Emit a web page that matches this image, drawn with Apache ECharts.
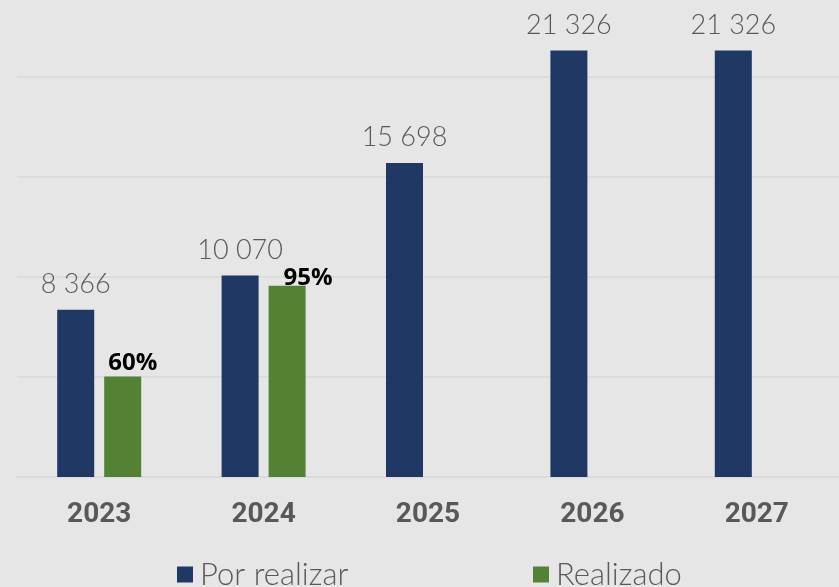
<!DOCTYPE html>
<html>
<head>
<meta charset="utf-8">
<script src="https://cdn.jsdelivr.net/npm/echarts@6/dist/echarts.min.js"></script>
<style>
html,body{margin:0;padding:0;background:#e6e6e6;}
#chart{width:839px;height:587px;}
</style>
</head>
<body>
<div id="chart"></div>
<script>
const categories = ['2023', '2024', '2025', '2026', '2027'];
const porRealizar = [8366, 10070, 15698, 21326, 21326];
const realizado = [5020, 9566, null, null, null];
const realizadoLabels = ['60%', '95%', '', '', ''];
const seriesNames = ['Por realizar', 'Realizado'];
const yMin = 0;
const yMax = 23850;      // visible top of the plot area
const yInterval = 5000;  // gridlines at 0, 5 000, 10 000, 15 000, 20 000

// label placement tweaks (style only)
const greenLabelOffsets = [[4, -1], [15, 4]];

const fmt = v => String(v).replace(/\B(?=(\d{3})+(?!\d))/g, ' ');

const chart = echarts.init(document.getElementById('chart'));
const legendText = { fontFamily: 'Lato', fontWeight: 300, fontSize: 31, lineHeight: 31, color: '#595959', padding: [0, 0, 0, 2] };
chart.setOption({
  backgroundColor: '#e6e6e6',
  animation: false,
  grid: { left: 17, right: 0, top: 0, bottom: 110, containLabel: false },
  legend: [
    { data: [seriesNames[0]], left: 177, top: 559, padding: 0, itemWidth: 16, itemHeight: 16, icon: 'rect', textStyle: legendText },
    { data: [seriesNames[1]], left: 533, top: 559, padding: 0, itemWidth: 16, itemHeight: 16, icon: 'rect', textStyle: legendText }
  ],
  xAxis: {
    type: 'category',
    data: categories,
    axisLine: { lineStyle: { color: '#d9d9d9', width: 1.5 } },
    axisTick: { show: false },
    axisLabel: { fontFamily: 'Roboto', fontWeight: 'bold', fontSize: 28, color: '#595959', margin: 24 }
  },
  yAxis: {
    type: 'value',
    min: yMin,
    max: yMax,
    interval: yInterval,
    axisLabel: { show: false },
    axisLine: { show: false },
    axisTick: { show: false },
    splitLine: { showMaxLine: false, lineStyle: { color: '#d9d9d9', width: 1.5 } }
  },
  series: [
    {
      name: seriesNames[0],
      type: 'bar',
      data: porRealizar,
      barWidth: 37,
      barGap: '27%',
      itemStyle: { color: '#1f3864' },
      label: {
        show: true, position: 'top', distance: 12,
        formatter: p => fmt(p.value),
        fontFamily: 'Lato', fontWeight: 300, fontSize: 27, color: '#595959'
      }
    },
    {
      name: seriesNames[1],
      type: 'bar',
      data: realizado.map((v, i) => v == null ? null : {
        value: v,
        label: {
          show: true,
          formatter: realizadoLabels[i],
          position: [greenLabelOffsets[i][0], greenLabelOffsets[i][1]],
          align: 'left', verticalAlign: 'bottom'
        }
      }),
      barWidth: 37,
      itemStyle: { color: '#548235' },
      label: {
        show: true,
        fontFamily: 'Open Sans', fontWeight: 'bold', fontSize: 24, color: '#000000'
      }
    }
  ]
});
</script>
</body>
</html>
